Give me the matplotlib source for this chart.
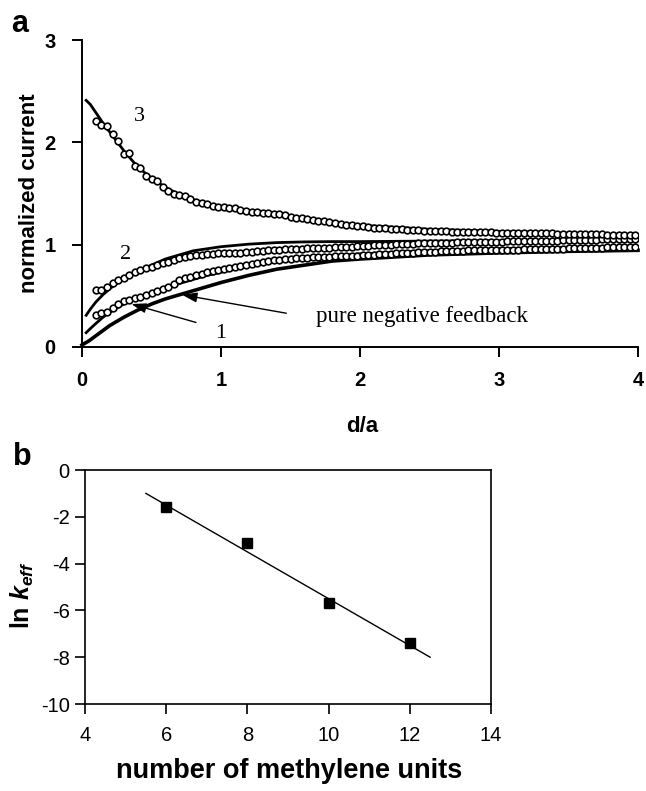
import numpy as np
import matplotlib
matplotlib.use("Agg")
import matplotlib.pyplot as plt

plt.rcParams["mathtext.fontset"] = "custom"
plt.rcParams["mathtext.it"] = "Liberation Sans:italic:bold"
plt.rcParams["mathtext.rm"] = "Liberation Sans:bold"
plt.rcParams["mathtext.bf"] = "Liberation Sans:bold"

# ---------------- data: panel a ----------------
# experimental points (open circles), sampled on a regular d/a grid
x_pts = np.round(0.10 + 0.04 * np.arange(98), 2)

y3_pts = [2.21, 2.17, 2.16, 2.08, 2.01, 1.89, 1.90, 1.77, 1.75, 1.67,
          1.64, 1.62, 1.56, 1.52, 1.50, 1.49, 1.48, 1.45, 1.42, 1.41,
          1.40, 1.38, 1.37, 1.365, 1.355, 1.355, 1.34, 1.33, 1.32, 1.315,
          1.31, 1.305, 1.30, 1.30, 1.29, 1.275, 1.265, 1.26, 1.25, 1.245,
          1.235, 1.23, 1.22, 1.21, 1.20, 1.195, 1.19, 1.185, 1.18, 1.175,
          1.165, 1.16, 1.16, 1.155, 1.15, 1.15, 1.145, 1.14, 1.14, 1.135,
          1.135, 1.13, 1.13, 1.13, 1.125, 1.125, 1.125, 1.12, 1.12, 1.12,
          1.12, 1.12, 1.115, 1.115, 1.115, 1.115, 1.115, 1.11, 1.11, 1.11,
          1.11, 1.11, 1.11, 1.105, 1.105, 1.105, 1.105, 1.10, 1.10, 1.10,
          1.10, 1.10, 1.095, 1.095, 1.095, 1.09, 1.09, 1.09]

y2_pts = [0.56, 0.56, 0.59, 0.63, 0.655, 0.675, 0.70, 0.73, 0.755, 0.77,
          0.785, 0.805, 0.82, 0.835, 0.85, 0.865, 0.875, 0.89, 0.895, 0.90,
          0.905, 0.91, 0.915, 0.917, 0.92, 0.922, 0.922, 0.925, 0.93, 0.935,
          0.94, 0.95, 0.952, 0.95, 0.955, 0.957, 0.96, 0.962, 0.963, 0.965,
          0.968, 0.97, 0.972, 0.975, 0.977, 0.98, 0.982, 0.985, 0.987, 0.99,
          0.993, 0.995, 0.998, 1.0, 1.003, 1.005, 1.008, 1.01, 1.012, 1.014,
          1.015, 1.016, 1.018, 1.02, 1.021, 1.022, 1.023, 1.024, 1.025, 1.026,
          1.027, 1.028, 1.029, 1.03, 1.031, 1.032, 1.033, 1.034, 1.035, 1.036,
          1.037, 1.038, 1.039, 1.04, 1.041, 1.043, 1.044, 1.045, 1.047, 1.048,
          1.05, 1.051, 1.052, 1.054, 1.055, 1.057, 1.058, 1.06]

y1_pts = [0.31, 0.33, 0.34, 0.38, 0.42, 0.45, 0.46, 0.475, 0.49, 0.51,
          0.53, 0.55, 0.57, 0.59, 0.62, 0.65, 0.67, 0.685, 0.70, 0.715,
          0.735, 0.745, 0.755, 0.765, 0.772, 0.78, 0.79, 0.798, 0.81, 0.822,
          0.835, 0.845, 0.85, 0.855, 0.86, 0.864, 0.867, 0.87, 0.873, 0.875,
          0.878, 0.88, 0.883, 0.885, 0.887, 0.889, 0.891, 0.893, 0.896, 0.898,
          0.901, 0.905, 0.908, 0.911, 0.914, 0.916, 0.918, 0.921, 0.924, 0.927,
          0.93, 0.932, 0.935, 0.938, 0.94, 0.941, 0.942, 0.943, 0.944, 0.945,
          0.946, 0.947, 0.948, 0.949, 0.95, 0.951, 0.952, 0.953, 0.954, 0.955,
          0.956, 0.957, 0.958, 0.96, 0.962, 0.964, 0.966, 0.968, 0.969, 0.97,
          0.971, 0.972, 0.974, 0.975, 0.976, 0.977, 0.978, 0.98]

# theoretical curves (solid lines)
x_fit = [0.03, 0.06, 0.10, 0.15, 0.20, 0.25, 0.30, 0.35, 0.40, 0.50, 0.60,
         0.70, 0.80, 0.90, 1.00, 1.20, 1.40, 1.60, 1.80, 2.00, 2.50, 3.00,
         3.50, 4.00]
y3_fit = [2.41, 2.37, 2.29, 2.19, 2.10, 2.01, 1.92, 1.84, 1.76, 1.65, 1.56,
          1.49, 1.44, 1.40, 1.37, 1.32, 1.29, 1.25, 1.22, 1.19, 1.15, 1.13,
          1.11, 1.09]
y2_fit = [0.31, 0.37, 0.44, 0.51, 0.57, 0.62, 0.66, 0.70, 0.74, 0.80, 0.86,
          0.90, 0.94, 0.96, 0.98, 1.005, 1.02, 1.027, 1.03, 1.03, 1.035, 1.04,
          1.04, 1.045]
y1_fit = [0.14, 0.18, 0.23, 0.29, 0.34, 0.38, 0.42, 0.45, 0.48, 0.53, 0.58,
          0.62, 0.66, 0.70, 0.73, 0.79, 0.84, 0.87, 0.89, 0.91, 0.94, 0.96,
          0.975, 0.985]
x_neg = [0.00, 0.05, 0.10, 0.20, 0.30, 0.40, 0.50, 0.60, 0.70, 0.80, 0.90,
         1.00, 1.20, 1.40, 1.60, 1.80, 2.00, 2.50, 3.00, 3.50, 4.00]
y_neg = [0.02, 0.06, 0.11, 0.21, 0.29, 0.36, 0.42, 0.47, 0.51, 0.55, 0.59,
         0.63, 0.70, 0.76, 0.80, 0.84, 0.86, 0.90, 0.92, 0.935, 0.945]

a_xticks = [0, 1, 2, 3, 4]
a_yticks = [0, 1, 2, 3]

# ---------------- data: panel b ----------------
n_units = [6, 8, 10, 12]
ln_keff = [-1.6, -3.1, -5.7, -7.4]
fit_x = [5.5, 12.5]
fit_y = [-1.0, -8.0]
b_xticks = [4, 6, 8, 10, 12, 14]
b_yticks = [0, -2, -4, -6, -8, -10]

# ---------------- figure ----------------
W, H = 646, 791
fig = plt.figure(figsize=(W / 100, H / 100), dpi=100)
sans = "Liberation Sans"
serif = "Liberation Serif"

def fx(px):
    return px / W

def fy(py):
    return 1 - py / H

# panel a
ax = fig.add_axes([fx(82), fy(347), (638 - 82) / W, (347 - 40) / H])
ax.set_xlim(0, 4)
ax.set_ylim(0, 3)
for s in ("top", "right"):
    ax.spines[s].set_visible(False)
for s in ("left", "bottom"):
    ax.spines[s].set_linewidth(1.4)
ax.set_xticks(a_xticks)
ax.set_yticks(a_yticks)
ax.set_xticklabels([str(v) for v in a_xticks], fontfamily=sans, fontweight="bold", fontsize=14.5)
ax.set_yticklabels([str(v) for v in a_yticks], fontfamily=sans, fontweight="bold", fontsize=14.5)
ax.tick_params(direction="out", length=7, width=1.4)
ax.tick_params(axis="x", pad=10)
ax.tick_params(axis="y", pad=12)

ax.plot(x_neg, y_neg, color="black", lw=2.6, zorder=2, clip_on=False)
ax.plot(x_fit, y1_fit, color="black", lw=2.0, zorder=2)
ax.plot(x_fit, y2_fit, color="black", lw=2.0, zorder=2)
ax.plot(x_fit, y3_fit, color="black", lw=2.0, zorder=2)
for ys in (y1_pts, y2_pts, y3_pts):
    ax.plot(x_pts, ys, linestyle="none", marker="o", markersize=4.8,
            markerfacecolor="white", markeredgecolor="black",
            markeredgewidth=1.2, zorder=3)

ax.text(0.41, 2.25, "3", fontfamily=serif, fontsize=16, ha="center", va="center")
ax.text(0.31, 0.90, "2", fontfamily=serif, fontsize=16, ha="center", va="center")
ax.text(1.00, 0.13, "1", fontfamily=serif, fontsize=16, ha="center", va="center")
ax.text(1.68, 0.30, "pure negative feedback", fontfamily=serif, fontsize=16.5,
        ha="left", va="center")
arrow_kw = dict(arrowstyle="-|>,head_length=0.9,head_width=0.3", color="black",
                lw=1.0, shrinkA=0, shrinkB=0)
ax.annotate("", xy=(0.355, 0.42), xytext=(0.82, 0.24), arrowprops=arrow_kw)
ax.annotate("", xy=(0.72, 0.51), xytext=(1.47, 0.33), arrowprops=arrow_kw)

fig.text(fx(30), fy(193), "normalized current", fontfamily=sans, fontweight="bold",
         fontsize=16, rotation=90, ha="center", va="center")
fig.text(fx(362), fy(426), "d/a", fontfamily=sans, fontweight="bold", fontsize=16,
         ha="center", va="center")
fig.text(fx(20), fy(24), "a", fontfamily=sans, fontweight="bold", fontsize=22,
         ha="center", va="center")

# panel b
bx = fig.add_axes([fx(85), fy(704), (491 - 85) / W, (704 - 470) / H])
bx.set_xlim(4, 14)
bx.set_ylim(-10, 0)
for s in bx.spines.values():
    s.set_linewidth(1.2)
bx.set_xticks(b_xticks)
bx.set_yticks(b_yticks)
bx.set_xticklabels([str(v) for v in b_xticks], fontfamily=sans, fontsize=14.5)
bx.set_yticklabels([str(v) for v in b_yticks], fontfamily=sans, fontsize=14.5)
bx.tick_params(direction="out", length=7, width=1.2)
bx.tick_params(axis="x", pad=9)
bx.tick_params(axis="y", pad=4)
bx.plot(fit_x, fit_y, color="black", lw=1.0, zorder=2)
bx.plot(n_units, ln_keff, linestyle="none", marker="s", markersize=7.2,
        color="black", zorder=3)

fig.text(fx(22), fy(595), r"ln $k_{eff}$", fontfamily=sans,
         fontweight="bold", fontsize=18, rotation=90, ha="center", va="center")
fig.text(fx(289), fy(771), "number of methylene units", fontfamily=sans,
         fontweight="bold", fontsize=19.5, ha="center", va="center")
fig.text(fx(22), fy(457), "b", fontfamily=sans, fontweight="bold", fontsize=22,
         ha="center", va="center")

fig.savefig("out.png", dpi=100)
